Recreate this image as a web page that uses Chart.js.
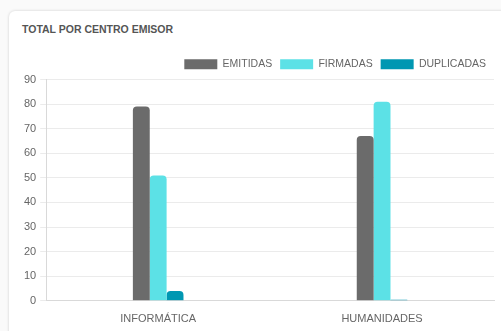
<!DOCTYPE html>
<html>
<head>
<meta charset="utf-8">
<script src="https://cdn.jsdelivr.net/npm/chart.js@4"></script>
<style>
  html, body { margin: 0; padding: 0; background: #fafafa; }
  body { width: 501px; height: 331px; overflow: hidden; position: relative; font-family: "Liberation Sans", Arial, sans-serif; }
  .card {
    position: absolute; left: 9px; top: 11px; width: 520px; height: 340px;
    background: #fff; border-radius: 6px;
    box-shadow: 0 0 3px rgba(0,0,0,0.18);
  }
  .card h3 {
    position: absolute; left: 13px; top: 12px; margin: 0;
    font-size: 10.5px; font-weight: bold; color: #555;
  }
  #wrap { position: absolute; left: 0; top: 0; width: 501px; height: 331px; }
</style>
</head>
<body>
<div class="card"><h3>TOTAL POR CENTRO EMISOR</h3></div>
<div id="wrap"><canvas id="centroChart"></canvas></div>
<script>
  const centros = ['INFORMÁTICA', 'HUMANIDADES'];
  const emitidas = [79, 67];
  const firmadas = [51, 81];
  const duplicadas = [4, 0];

  const ctx = document.getElementById('centroChart');
  new Chart(ctx, {
    type: 'bar',
    data: {
      labels: centros,
      datasets: [
        { label: 'EMITIDAS', data: emitidas, backgroundColor: '#6b6b6b' },
        { label: 'FIRMADAS', data: firmadas, backgroundColor: '#5ce1e6' },
        { label: 'DUPLICADAS', data: duplicadas, backgroundColor: '#0097b2', minBarLength: 1 }
      ]
    },
    options: {
      responsive: true,
      maintainAspectRatio: false,
      animation: false,
      layout: { padding: { top: 51, left: 20, right: 7, bottom: 1 } },
      datasets: {
        bar: {
          barPercentage: 1,
          categoryPercentage: 0.226,
          borderRadius: { topLeft: 4, topRight: 4 },
          borderSkipped: 'bottom'
        }
      },
      scales: {
        x: {
          grid: { display: false },
          border: { display: true, color: '#d9d9d9' },
          ticks: { color: '#666', font: { size: 11, family: 'Liberation Sans' }, padding: 4 }
        },
        y: {
          min: 0,
          max: 90,
          ticks: { stepSize: 10, color: '#666', font: { size: 11, family: 'Liberation Sans' }, padding: 4 },
          grid: { color: '#ebebeb', tickLength: 6 },
          border: { display: true, color: '#d9d9d9' }
        }
      },
      plugins: {
        legend: {
          position: 'top',
          align: 'end',
          labels: {
            boxWidth: 33,
            boxHeight: 10,
            color: '#666',
            font: { size: 10.5, family: 'Liberation Sans' },
            padding: 8
          }
        },
        tooltip: { enabled: false }
      }
    }
  });
</script>
</body>
</html>
